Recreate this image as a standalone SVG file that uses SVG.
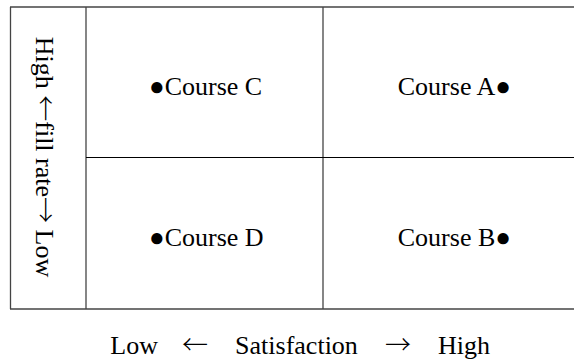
<svg xmlns="http://www.w3.org/2000/svg" width="574" height="362" viewBox="0 0 574 362">
<style>
text{font-family:'Liberation Serif','Times New Roman',Times,serif;font-size:26px;fill:#000}
.ar{font-family:'Noto Sans CJK JP','DejaVu Sans',sans-serif;font-weight:300}
.g{stroke:#444;stroke-width:1.3;fill:none}
.k{stroke:#000;stroke-width:1;fill:none}
</style>
<rect width="574" height="362" fill="#fff"/>
<g id="grid">
<line class="g" x1="10" y1="7" x2="574" y2="7"/>
<line class="g" x1="10" y1="309" x2="574" y2="309"/>
<line class="g" x1="10.5" y1="7" x2="10.5" y2="309"/>
<line class="g" x1="86" y1="7" x2="86" y2="309"/>
<line class="g" x1="323" y1="7" x2="323" y2="309"/>
<line class="k" x1="86" y1="157.5" x2="574" y2="157.5"/>
</g>
<g id="yaxis"><text transform="translate(36,157) rotate(90)" text-anchor="middle">High <tspan class="ar">←</tspan>fill rate<tspan class="ar">→</tspan> Low</text></g>
<g id="courseC"><text x="149" y="95">●Course C</text></g>
<g id="courseA"><text x="511" y="95" text-anchor="end">Course A●</text></g>
<g id="courseD"><text x="149" y="246">●Course D</text></g>
<g id="courseB"><text x="511" y="246" text-anchor="end">Course B●</text></g>
<g id="xaxis">
<text x="158" y="354" text-anchor="end">Low</text>
<text class="ar" x="195" y="354" text-anchor="middle">←</text>
<text x="296.5" y="354" text-anchor="middle">Satisfaction</text>
<text class="ar" x="398" y="354" text-anchor="middle">→</text>
<text x="438" y="354">High</text>
</g>
</svg>
